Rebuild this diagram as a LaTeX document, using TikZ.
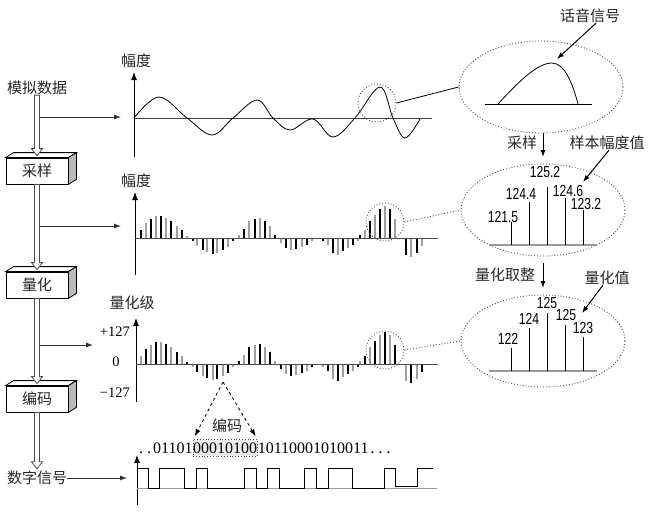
\documentclass[tikz,border=0pt]{standalone}
\usepackage{fontspec}
\setmainfont{Liberation Serif}
\newfontfamily\cjk{Noto Sans CJK SC}
\newfontfamily\numf[FakeStretch=0.76]{Liberation Sans}
\usetikzlibrary{arrows.meta,calc,shapes.geometric}
\newcommand\dt{\makebox[0.5em]{.}}
\tikzset{
  lab/.style={font=\cjk\fontsize{15}{16}\selectfont, inner sep=0pt, text=black!85},
  num/.style={font=\numf\fontsize{16}{17}\selectfont, inner sep=0pt},
  ser/.style={font=\fontsize{14.5}{15}\selectfont, inner sep=0pt},
  bits/.style={font=\fontsize{16}{17}\selectfont, inner xsep=0pt, inner ysep=3pt},
  procbox/.style={lab, draw=black, line width=0.8pt, fill=white, minimum width=62pt, minimum height=26pt},
  hollowarr/.style={draw=black!70, fill=white, line width=0.8pt},
  brarr/.style={line width=0.8pt, black!80, -{Latex[length=7pt,width=5pt]}},
  ax/.style={line width=0.9pt, -{Latex[length=8pt,width=6pt]}},
  smallarr/.style={line width=1pt, -{Latex[length=7pt,width=5pt]}},
  zoomc/.style={circle, draw=black!70, dotted, line width=0.9pt, minimum size=38pt, inner sep=0pt},
  zoome/.style={ellipse, draw=black!70, dotted, line width=0.9pt, minimum width=164pt, minimum height=92pt, inner sep=0pt},
  stem/.style={line width=1.2pt},
}
\newcommand\hollowarrow[2]{%
  \draw[hollowarr] ([xshift=-2.5pt]#1.south) -- ([xshift=-2.5pt,yshift=9pt]#2.north)
   -- ([xshift=-5.5pt,yshift=9pt]#2.north) -- ([yshift=2pt]#2.north)
   -- ([xshift=5.5pt,yshift=9pt]#2.north) -- ([xshift=2.5pt,yshift=9pt]#2.north)
   -- ([xshift=2.5pt]#1.south) -- cycle;}
\newcommand\threed[1]{%
  \fill[white,draw=black,line width=0.8pt] (#1.north west) -- ([shift={(8,-5)}]#1.north west) -- ([shift={(8,-5)}]#1.north east) -- (#1.north east) -- cycle;
  \fill[gray!55,draw=black,line width=0.8pt] (#1.north east) -- ([shift={(8,-5)}]#1.north east) -- ([shift={(8,-5)}]#1.south east) -- (#1.south east) -- cycle;}
\def\stemlist{141/8,146/15,151/19,156/22,161/22,166/20,171/17,177/12,182/8,187/2,193/-3,197/-8,203/-12,207/-14,213/-16,217/-15,223/-12,228/-9,233/-3,239/3,244/9,249/17,255/19,260/20,265/17,270/12,275/3,281/-5,286/-10,291/-12,296/-11,302/-9,307/-7,312/-3,323/-3,328/-7,333/-15,338/-17,343/-13,348/-10,353/-7,358/-3,360/3,365/8,370/17,375/23,380/29,385/32,390/29,395/19,406/-17,411/-19,417/-15,422/-8}
\begin{document}
\begin{tikzpicture}[x=1pt,y=-1pt]
\path[use as bounding box] (0,0) rectangle (654,512);

% ---------- left column ----------
\node[lab] (src) at (37,88) {模拟数据};
\node[procbox] (s1) at (37,171) {采样};
\node[procbox] (s2) at (37,285) {量化};
\node[procbox] (s3) at (37,399) {编码};
\node[lab] (dst) at (37,478) {数字信号};
\threed{s1}\threed{s2}\threed{s3}
\hollowarrow{src}{s1}
\hollowarrow{s1}{s2}
\hollowarrow{s2}{s3}
\hollowarrow{s3}{dst}

\coordinate (j1) at (39.5,117); \coordinate (k1) at (121,117);
\coordinate (j2) at (39.5,226); \coordinate (k2) at (121,226);
\coordinate (j3) at (39.5,345); \coordinate (k3) at (93,345);
\coordinate (k4) at (127,478);
\draw[brarr] (j1) -- (k1);
\draw[brarr] (j2) -- (k2);
\draw[brarr] (j3) -- (k3);
\draw[brarr] (dst.east) -- (k4);

% ---------- plot 1 ----------
\node[lab] (y1) at (136,61) {幅度};
\draw[ax] (134,157) -- (134,72);
\draw[line width=0.9pt, black!75] (134,118) -- (432,118);
\draw[line width=0.8pt] plot[smooth, tension=0.6] coordinates {(134,118) (159,97) (187,118) (212,135) (233,118) (257,100) (273,118) (290,130) (313,119) (333,137) (355,118) (380,87) (393,118) (405,138) (420,119)};
\node[zoomc] (c1) at (377,103) {};

% ---------- plot 2 ----------
\node[lab] (y2) at (136,181) {幅度};
\draw[ax] (135,275) -- (135,192);
\foreach \x/\h [count=\i] in \stemlist {
  \ifodd\i\relax \def\stc{black}\else\def\stc{gray!75}\fi
  \draw[stem,\stc] (\x,238) -- (\x,{238-\h});
}
\draw[line width=1pt, black!70] (135,238) -- (438,238);
\node[zoomc] (c2) at (385,222) {};

% ---------- plot 3 ----------
\node[lab] (y3) at (132,303) {量化级};
\node[ser,anchor=east] (lp) at (130,332) {+127};
\node[ser] (l0) at (116,362) {0};
\node[ser,anchor=east] (lm) at (130,393) {−127};
\draw[ax] (136,402) -- (136,318);
\foreach \x/\h [count=\i] in \stemlist {
  \ifodd\i\relax \def\stc{gray!75}\else\def\stc{black}\fi
  \draw[stem,\stc] (\x,364) -- (\x,{364-\h});
}
\draw[line width=1pt, black!70] (136,364) -- (438,364);
\node[zoomc] (c3) at (385,350) {};
\coordinate (apex) at (223,382);

% ---------- plot 4 ----------
\node[bits,anchor=west] (ba) at (137,448) {\dt\dt01101};
\node[bits,anchor=west,fill=gray!15,draw=black!70,dotted,line width=0.8pt] (code) at (ba.east) {00010100};
\node[bits,anchor=west] (bc) at (code.east) {10110001010011\dt\dt\dt};
\node[lab] (cl) at (227,426) {编码};
\draw[dashed,line width=0.8pt,-{Latex[length=7pt,width=5pt]}] (apex) -- ([xshift=2pt,yshift=3pt]code.north west);
\draw[dashed,line width=0.8pt,-{Latex[length=7pt,width=5pt]}] (apex) -- ([xshift=-2pt,yshift=3pt]code.north east);
\draw[ax] (137,505) -- (137,455);
\draw[line width=1pt, gray!80] (137,488) -- (437,488);
\draw[line width=0.9pt] (137,468) -- (148,468) -- (148,488) -- (159,488) -- (159,468) -- (184,468) -- (184,488) -- (196,488) -- (196,468) -- (207,468) -- (207,488) -- (244,488) -- (244,468) -- (256,468) -- (256,488) -- (267,488) -- (267,468) -- (279,468) -- (279,488) -- (304,488) -- (304,468) -- (316,468) -- (316,488) -- (328,488) -- (328,468) -- (352,468) -- (352,488) -- (384,488) -- (384,468) -- (395,468) -- (395,486) -- (417,486) -- (417,468) -- (433,468);

% ---------- right: ellipse 1 ----------
\node[zoome] (e1) at (541,87) {};
\draw[line width=0.8pt] (c1.east) -- (e1.west);
\draw[line width=1pt] (485,104) -- (592,104);
\draw[line width=0.8pt] (498,104) .. controls (520,80) and (538,63) .. (552,63) .. controls (565,63) and (573,85) .. (578,104);
\node[lab] (t1) at (590,16) {话音信号};
\coordinate (pk1) at (557,59);
\draw[smallarr] ([xshift=6pt]t1.south) -- (pk1);
\node[lab] (ta) at (522,143) {采样};
\coordinate (a1s) at (543,133); \coordinate (a1e) at (543,157);
\draw[smallarr] (a1s) -- (a1e);

% ---------- ellipse 2 ----------
\node[zoome] (e2) at (543,210) {};
\draw[dotted,line width=0.9pt,black!70] (c2.east) -- (e2.west);
\draw[line width=1.6pt, gray!80] (489,245) -- (597,245);
\foreach \x/\t in {511/222,529/202,547/187,565/198,583/210}
  \draw[line width=1pt] (\x,245) -- (\x,\t);
\node[num] (v1) at (503,217) {121.5};
\node[num] (v2) at (521,194) {124.4};
\node[num] (v3) at (545,172) {125.2};
\node[num] (v4) at (568,191) {124.6};
\node[num] (v5) at (586,204) {123.2};
\node[lab] (t2) at (607,143) {样本幅度值};
\coordinate (p2) at (583,182);
\draw[smallarr] ([xshift=2pt]t2.south) -- (p2);
\node[lab] (tb) at (505,275) {量化取整};
\coordinate (a2s) at (543,263); \coordinate (a2e) at (543,288);
\draw[smallarr] (a2s) -- (a2e);

% ---------- ellipse 3 ----------
\node[zoome] (e3) at (543,341) {};
\draw[dotted,line width=0.9pt,black!70] (c3.east) -- (e3.west);
\draw[line width=1.6pt, gray!80] (489,371) -- (597,371);
\foreach \x/\t in {511/348,529/328,547/313,565/325,583/337}
  \draw[line width=1pt] (\x,371) -- (\x,\t);
\node[num] (q1) at (508,339) {122};
\node[num] (q2) at (529,319) {124};
\node[num] (q3) at (547,303) {125};
\node[num] (q4) at (566,315) {125};
\node[num] (q5) at (583,328) {123};
\node[lab] (t3) at (607,278) {量化值};
\coordinate (p3) at (582,313);
\draw[smallarr] ([xshift=-4pt]t3.south) -- (p3);
\end{tikzpicture}
\end{document}
